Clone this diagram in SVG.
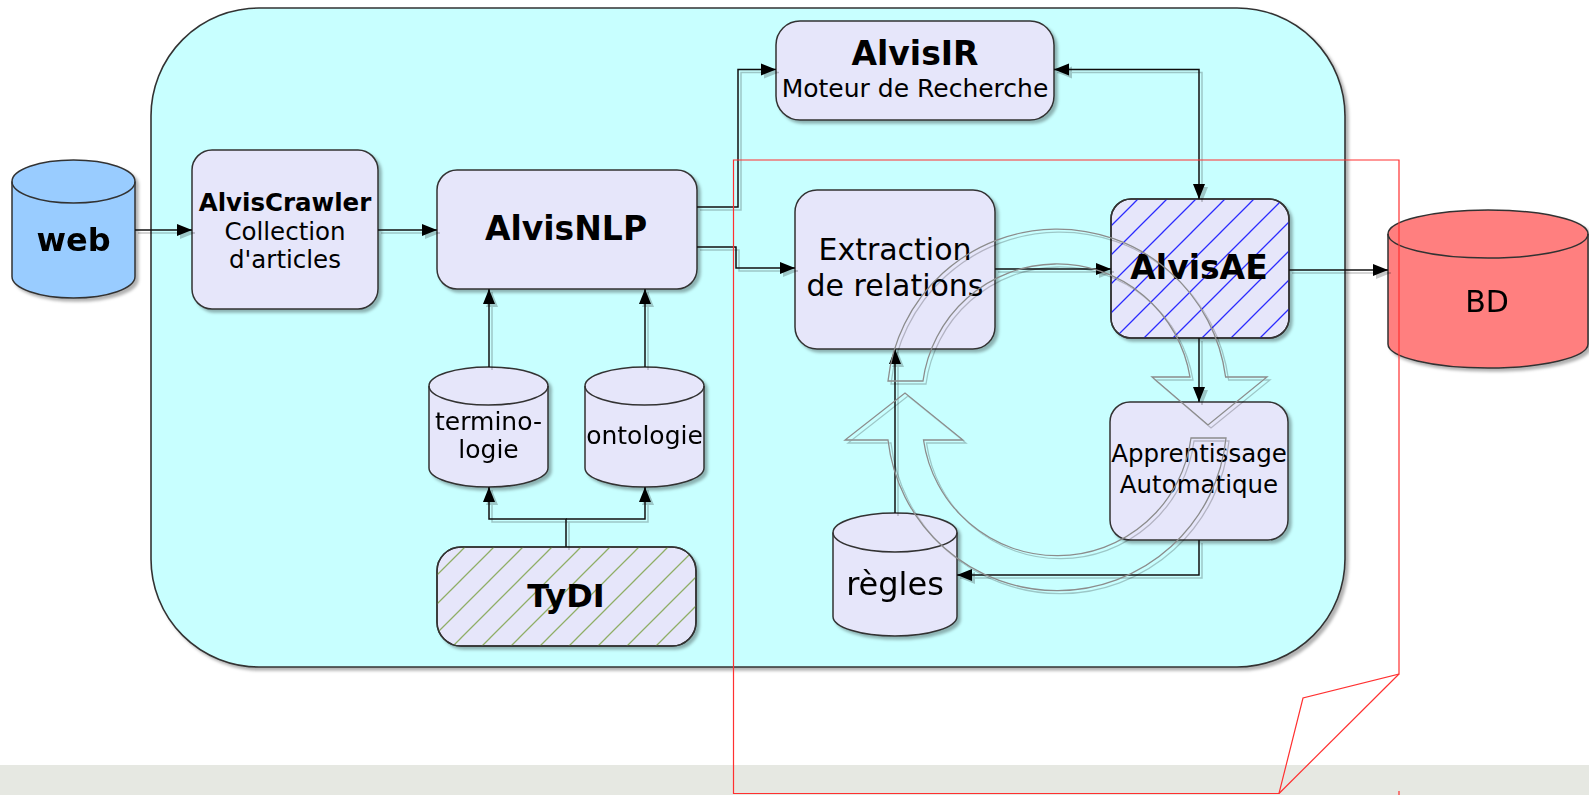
<svg xmlns="http://www.w3.org/2000/svg" width="1589" height="795" viewBox="0 0 1589 795">
<defs>
<style>
.box{fill:#e6e6fa;stroke:#333;stroke-width:1.5}
.t{font-family:"DejaVu Sans",Verdana,sans-serif;text-anchor:middle;fill:#000}
.b{font-weight:bold}
.conn{fill:none;stroke:#111;stroke-width:1.5}
.hollow{fill:none;stroke:#8c8c8c;stroke-width:1.3}
.red{fill:none;stroke:#ff3030;stroke-width:1.2}
</style>
<filter id="sh" filterUnits="userSpaceOnUse" x="0" y="0" width="1589" height="795">
<feDropShadow dx="3" dy="3" stdDeviation="1.5" flood-color="#000" flood-opacity="0.3"/>
</filter>
<filter id="lsh" filterUnits="userSpaceOnUse" x="0" y="0" width="1589" height="795">
<feDropShadow dx="3" dy="3" stdDeviation="0.5" flood-color="#000" flood-opacity="0.22"/>
</filter>
<marker id="ah" markerUnits="userSpaceOnUse" viewBox="0 0 16 13" markerWidth="16" markerHeight="13" refX="15" refY="6.5" orient="auto">
<path d="M0,0.5 L15,6.5 L0,12.5 z" fill="#000"/>
</marker>
<marker id="ahs" markerUnits="userSpaceOnUse" viewBox="0 0 16 13" markerWidth="16" markerHeight="13" refX="0" refY="6.5" orient="auto">
<path d="M15,0.5 L0,6.5 L15,12.5 z" fill="#000"/>
</marker>
<pattern id="hatchBlue" patternUnits="userSpaceOnUse" x="3" y="0" width="29" height="29">
<path d="M-1,1 L1,-1 M0,29 L29,0 M28,30 L30,28" stroke="#2b2bff" stroke-width="1.3"/>
</pattern>
<pattern id="hatchGreen" patternUnits="userSpaceOnUse" x="26" y="0" width="29" height="29">
<path d="M-1,1 L1,-1 M0,29 L29,0 M28,30 L30,28" stroke="#8fae66" stroke-width="1.3"/>
</pattern>
</defs>

<rect x="0" y="765" width="1589" height="30" fill="#e6e8e2"/>

<g id="container">
<rect x="151" y="8" width="1194" height="659" rx="108" ry="108" fill="#c8ffff" stroke="#333" stroke-width="1.6" filter="url(#sh)"/>
</g>

<g id="web" filter="url(#sh)">
<path d="M12,181.5 A61.5,21.5 0 0 1 135,181.5 L135,276.5 A61.5,21.5 0 0 1 12,276.5 Z" fill="#99ccff" stroke="#333" stroke-width="1.5"/>
<path d="M12,181.5 A61.5,21.5 0 0 0 135,181.5" fill="none" stroke="#333" stroke-width="1.5"/>
<text class="t b" x="73.5" y="251" font-size="32">web</text>
</g>

<g id="alviscrawler">
<rect class="box" x="192" y="150" width="186" height="159" rx="20" filter="url(#sh)"/>
<text class="t b" x="285" y="211" font-size="24.5">AlvisCrawler</text>
<text class="t" x="285" y="240" font-size="24.5">Collection</text>
<text class="t" x="285" y="268" font-size="24.5">d'articles</text>
</g>

<g id="alvisnlp">
<rect class="box" x="437" y="170" width="260" height="119" rx="20" filter="url(#sh)"/>
<text class="t b" x="566" y="240" font-size="33">AlvisNLP</text>
</g>

<g id="alvisir">
<rect class="box" x="776" y="21" width="278" height="99" rx="24" filter="url(#sh)"/>
<text class="t b" x="915" y="65" font-size="33">AlvisIR</text>
<text class="t" x="915" y="97" font-size="25">Moteur de Recherche</text>
</g>

<g id="extraction">
<rect class="box" x="795" y="190" width="200" height="159" rx="22" filter="url(#sh)"/>
<text class="t" x="895" y="260" font-size="30">Extraction</text>
<text class="t" x="895" y="296" font-size="30">de relations</text>
</g>

<g id="alvisae">
<rect class="box" x="1111" y="199" width="178" height="139" rx="20" filter="url(#sh)"/>
<rect x="1111" y="199" width="178" height="139" rx="20" fill="url(#hatchBlue)" stroke="#333" stroke-width="1.5"/>
<text class="t b" x="1199" y="279" font-size="33">AlvisAE</text>
</g>

<g id="apprentissage">
<rect class="box" x="1110" y="402" width="178" height="138" rx="20" filter="url(#sh)"/>
<text class="t" x="1199" y="462" font-size="24.5">Apprentissage</text>
<text class="t" x="1199" y="493" font-size="24.5">Automatique</text>
</g>

<g id="bd" filter="url(#sh)">
<path d="M1388,234 A100,24 0 0 1 1588,234 L1588,344 A100,24 0 0 1 1388,344 Z" fill="#ff7f7f" stroke="#333" stroke-width="1.5"/>
<path d="M1388,234 A100,24 0 0 0 1588,234" fill="none" stroke="#333" stroke-width="1.5"/>
<text class="t" x="1487" y="312" font-size="30">BD</text>
</g>

<g id="terminologie" filter="url(#sh)">
<path d="M429,386 A59.5,19 0 0 1 548,386 L548,468 A59.5,19 0 0 1 429,468 Z" class="box"/>
<path d="M429,386 A59.5,19 0 0 0 548,386" fill="none" stroke="#333" stroke-width="1.5"/>
<text class="t" x="488.5" y="430" font-size="25">termino-</text>
<text class="t" x="488.5" y="458" font-size="25">logie</text>
</g>

<g id="ontologie" filter="url(#sh)">
<path d="M585,386 A59.5,19 0 0 1 704,386 L704,468 A59.5,19 0 0 1 585,468 Z" class="box"/>
<path d="M585,386 A59.5,19 0 0 0 704,386" fill="none" stroke="#333" stroke-width="1.5"/>
<text class="t" x="644.5" y="444" font-size="25">ontologie</text>
</g>

<g id="tydi">
<rect class="box" x="437" y="547" width="259" height="99" rx="24" filter="url(#sh)"/>
<rect x="437" y="547" width="259" height="99" rx="24" fill="url(#hatchGreen)" stroke="#333" stroke-width="1.5"/>
<text class="t b" x="566" y="607" font-size="32">TyDI</text>
</g>

<g id="regles" filter="url(#sh)">
<path d="M833,532.5 A62,19.5 0 0 1 957,532.5 L957,616.5 A62,19.5 0 0 1 833,616.5 Z" class="box"/>
<path d="M833,532.5 A62,19.5 0 0 0 957,532.5" fill="none" stroke="#333" stroke-width="1.5"/>
<text class="t" x="895" y="595" font-size="32">règles</text>
</g>

<g id="connectors" filter="url(#lsh)">
<path class="conn" d="M135,230 L192,230" marker-end="url(#ah)"/>
<path class="conn" d="M378,230 L437,230" marker-end="url(#ah)"/>
<path class="conn" d="M697,207 L738,207 L738,69.5 L776,69.5" marker-end="url(#ah)"/>
<path class="conn" d="M697,247 L736,247 L736,268 L795,268" marker-end="url(#ah)"/>
<path class="conn" d="M995,269 L1111,269" marker-end="url(#ah)"/>
<path class="conn" d="M1054,69.5 L1199,69.5 L1199,199" marker-start="url(#ahs)" marker-end="url(#ah)"/>
<path class="conn" d="M1289,270 L1388,270" marker-end="url(#ah)"/>
<path class="conn" d="M1199,338 L1199,402" marker-end="url(#ah)"/>
<path class="conn" d="M1199,540 L1199,575 L957,575" marker-end="url(#ah)"/>
<path class="conn" d="M895,513 L895,349" marker-end="url(#ah)"/>
<path class="conn" d="M489,367 L489,289" marker-end="url(#ah)"/>
<path class="conn" d="M645,367 L645,289" marker-end="url(#ah)"/>
<path class="conn" d="M566,547 L566,519 L489,519 L489,487" marker-end="url(#ah)"/>
<path class="conn" d="M566,519 L645,519 L645,487" marker-end="url(#ah)"/>
</g>

<g id="cycle" filter="url(#lsh)">
<path class="hollow" d="M888,381 A170,170 0 0 1 1225.6,377 L1267,377 L1208,425 L1152,377 L1190,377 A135,135 0 0 0 923,381 Z"/>
<path class="hollow" d="M1226,438 A170,170 0 0 1 888,440 L845,440 L905,393 L963,440 L923.5,440 A135,135 0 0 0 1191,438 Z"/>
</g>

<g id="page-curl">
<path class="red" d="M733.5,160 L1399,160 L1399,674 L1303,698 L1279,793.5 L733.5,793.5 Z"/>
<path class="red" d="M1399,674 L1279,793.5"/>
<path class="red" d="M1399,791 L1399,795"/>
</g>
</svg>
